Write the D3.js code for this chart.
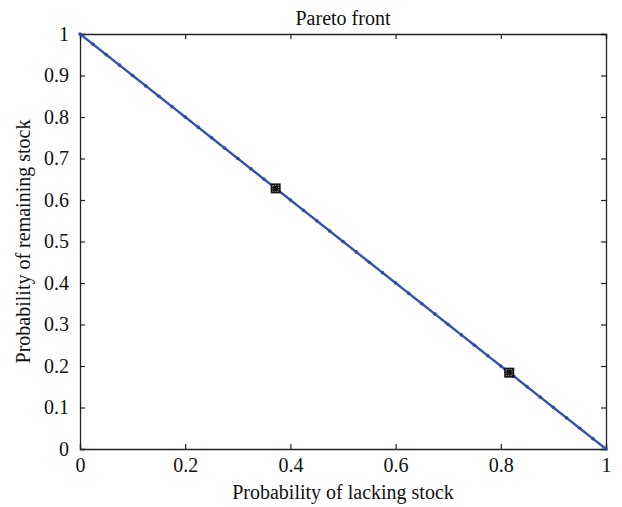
<!DOCTYPE html>
<html>
<head>
<meta charset="utf-8">
<script src="https://cdn.jsdelivr.net/npm/d3@7"></script>
<style>
  body { margin: 0; background: #fff; }
  text { font-family: "Liberation Serif", "DejaVu Serif", serif; fill: #111; }
</style>
</head>
<body>
<div id="chart"></div>
<script>
// pareto front points
var frontX = [0, 0.025, 0.05, 0.075, 0.1, 0.125, 0.15, 0.175, 0.2, 0.225, 0.25, 0.275, 0.3, 0.325, 0.35, 0.375,
              0.4, 0.425, 0.45, 0.475, 0.5, 0.525, 0.55, 0.575, 0.6, 0.625, 0.65, 0.675, 0.7, 0.725, 0.75,
              0.775, 0.8, 0.825, 0.85, 0.875, 0.9, 0.925, 0.95, 0.975, 1];
var frontY = [1, 0.975, 0.95, 0.925, 0.9, 0.875, 0.85, 0.825, 0.8, 0.775, 0.75, 0.725, 0.7, 0.675, 0.65, 0.625,
              0.6, 0.575, 0.55, 0.525, 0.5, 0.475, 0.45, 0.425, 0.4, 0.375, 0.35, 0.325, 0.3, 0.275, 0.25,
              0.225, 0.2, 0.175, 0.15, 0.125, 0.1, 0.075, 0.05, 0.025, 0];
// the two highlighted solutions
var pickX = [0.372, 0.816];
var pickY = [0.628, 0.184];
// tick labels
var xTicks = [0, 0.2, 0.4, 0.6, 0.8, 1];
var yTicks = [0, 0.1, 0.2, 0.3, 0.4, 0.5, 0.6, 0.7, 0.8, 0.9, 1];

var w = 622, h = 507;
// plot box edges (not "top": that name is taken by window.top)
var boxL = 80, boxR = 606, boxT = 34, boxB = 449;

var svg = d3.select("#chart").append("svg")
    .attr("width", w)
    .attr("height", h);

var xScale = d3.scaleLinear().domain([0, 1]).range([boxL, boxR]);
var yScale = d3.scaleLinear().domain([0, 1]).range([boxB, boxT]);

var fmt = function(d) { return d3.format("")(d); };

// bottom axis, ticks pointing inward
svg.append("g")
    .attr("transform", "translate(0," + boxB + ")")
    .call(d3.axisBottom(xScale).tickValues(xTicks).tickSize(-5).tickPadding(9).tickFormat(fmt));
// top axis (ticks only)
svg.append("g")
    .attr("transform", "translate(0," + boxT + ")")
    .call(d3.axisTop(xScale).tickValues(xTicks).tickSize(-5).tickFormat(""));
// left axis
svg.append("g")
    .attr("transform", "translate(" + boxL + ",0)")
    .call(d3.axisLeft(yScale).tickValues(yTicks).tickSize(-5).tickPadding(11).tickFormat(fmt));
// right axis (ticks only)
svg.append("g")
    .attr("transform", "translate(" + boxR + ",0)")
    .call(d3.axisRight(yScale).tickValues(yTicks).tickSize(-5).tickFormat(""));

svg.selectAll(".domain").attr("stroke", "#222").attr("stroke-width", 1.3);
svg.selectAll(".tick line").attr("stroke", "#222").attr("stroke-width", 1.2);
svg.selectAll(".tick text")
    .attr("font-family", "Liberation Serif")
    .attr("font-size", 20)
    .attr("fill", "#111");

// the front line
var line = d3.line()
    .x(function(d, i) { return xScale(frontX[i]); })
    .y(function(d, i) { return yScale(frontY[i]); });

svg.append("path")
    .datum(frontX)
    .attr("d", line)
    .attr("fill", "none")
    .attr("stroke", "#3253b3")
    .attr("stroke-width", 2.4);

svg.selectAll(".pt")
    .data(frontX)
    .enter().append("circle")
    .attr("class", "pt")
    .attr("cx", function(d, i) { return xScale(frontX[i]); })
    .attr("cy", function(d, i) { return yScale(frontY[i]); })
    .attr("r", 1.8)
    .attr("fill", "#2c4aa8");

// chosen solutions: black squares with white specks
var picks = svg.selectAll(".pick")
    .data(pickX)
    .enter().append("g")
    .attr("class", "pick")
    .attr("transform", function(d, i) { return "translate(" + xScale(pickX[i]) + "," + yScale(pickY[i]) + ")"; });

picks.append("rect")
    .attr("x", -5).attr("y", -5)
    .attr("width", 10).attr("height", 10)
    .attr("fill", "#111");
picks.append("rect")
    .attr("x", -3).attr("y", -3)
    .attr("width", 6).attr("height", 6)
    .attr("fill", "none")
    .attr("stroke", "#ddd")
    .attr("stroke-width", 0.8)
    .attr("stroke-dasharray", "1,1.5");

// title and axis labels
svg.append("text")
    .attr("x", (boxL + boxR) / 2)
    .attr("y", 25)
    .attr("text-anchor", "middle")
    .attr("font-size", 20)
    .text("Pareto front");

svg.append("text")
    .attr("x", (boxL + boxR) / 2)
    .attr("y", 499)
    .attr("text-anchor", "middle")
    .attr("font-size", 20)
    .text("Probability of lacking stock");

svg.append("text")
    .attr("transform", "translate(30," + ((boxT + boxB) / 2) + ") rotate(-90)")
    .attr("text-anchor", "middle")
    .attr("font-size", 20)
    .text("Probability of remaining stock");
</script>
</body>
</html>
